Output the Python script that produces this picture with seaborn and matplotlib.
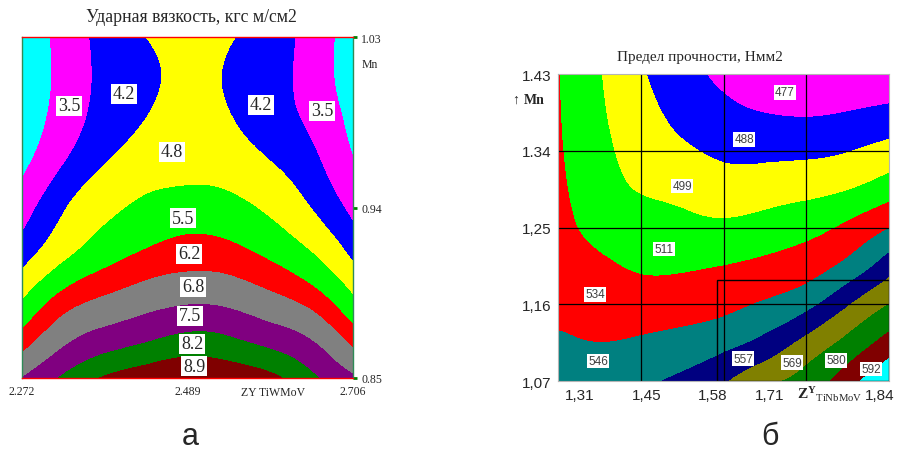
import numpy as np
import matplotlib
matplotlib.use("Agg")
import matplotlib.pyplot as plt
import matplotlib.tri as mtri
import seaborn as sns

# ---------- panel a: impact strength (on a 9x9 grid) ----------
zy_tiwmov = np.linspace(2.272, 2.706, 9)
mn_a = np.linspace(1.03, 0.85, 9)          # rows run top -> bottom
impact = [
    [2.93, 3.75, 4.41, 4.80, 4.94, 4.84, 4.51, 3.93, 3.11],
    [2.92, 3.72, 4.36, 4.70, 4.90, 4.75, 4.44, 3.92, 3.09],
    [3.00, 3.84, 4.45, 4.82, 5.00, 4.85, 4.49, 4.08, 3.28],
    [3.33, 4.20, 4.80, 5.15, 5.25, 5.18, 4.84, 4.37, 3.56],
    [3.87, 4.74, 5.30, 5.65, 5.81, 5.71, 5.35, 4.78, 4.02],
    [4.45, 5.25, 5.85, 6.22, 6.43, 6.35, 6.00, 5.45, 4.59],
    [5.30, 6.27, 6.73, 7.05, 7.22, 7.15, 6.83, 6.37, 5.44],
    [6.34, 7.23, 7.70, 8.00, 8.28, 8.17, 7.82, 7.38, 6.47],
    [7.50, 8.30, 8.97, 9.36, 9.55, 9.40, 9.08, 8.33, 7.60],
]
levels_a = [3.5, 4.2, 4.8, 5.5, 6.2, 6.8, 7.5, 8.2, 8.9]
colors_a = ['#00ffff', '#ff00ff', '#0000ff', '#ffff00', '#00ff00',
            '#ff0000', '#808080', '#800080', '#008000', '#800000']
labels_a = ['3.5', '4.2', '4.2', '3.5', '4.8', '5.5', '6.2', '6.8', '7.5', '8.2', '8.9']

# ---------- panel b: tensile strength ----------
zy_tinbmov = np.linspace(1.31, 1.84, 9)
mn_b = np.linspace(1.43, 1.07, 9)          # rows run top -> bottom
strength = [
    [517.3, 506.1, 495.2, 487.1, 479.1, 473.3, 470.4, 471.0, 472.7],
    [517.6, 507.2, 497.5, 491.1, 485.6, 482.3, 481.2, 482.7, 485.3],
    [518.0, 508.9, 500.3, 495.7, 491.8, 491.1, 491.4, 493.5, 497.7],
    [518.8, 510.7, 504.7, 502.4, 499.3, 500.2, 502.2, 505.0, 511.7],
    [520.4, 513.6, 510.1, 508.4, 507.6, 509.8, 512.9, 519.1, 527.9],
    [522.5, 519.0, 515.6, 515.5, 517.0, 519.5, 523.4, 531.6, 546.1],
    [525.1, 523.8, 522.4, 523.2, 525.3, 529.7, 536.3, 550.2, 563.0],
    [530.2, 528.5, 529.9, 532.4, 536.4, 543.3, 554.6, 566.1, 579.0],
    [534.3, 534.3, 537.7, 542.3, 549.8, 560.4, 567.0, 581.2, 596.1],
]
levels_b = [482.5, 494, 505.5, 517, 528.5, 540, 551.5, 563, 574.5, 586]
colors_b = ['#ff00ff', '#0000ff', '#ffff00', '#00ff00', '#ff0000', '#008080',
            '#000080', '#808000', '#008000', '#800000', '#00ffff']
labels_b = ['477', '488', '499', '511', '534', '546', '557', '569', '580', '592']
xticks_b = ['1,31', '1,45', '1,58', '1,71', '1,84']
yticks_b = ['1.43', '1.34', '1,25', '1,16', '1,07']

# where the value boxes sit (axes fractions)
pos_a = [(0.142, 0.798), (0.308, 0.833), (0.722, 0.801), (0.906, 0.783), (0.453, 0.663),
         (0.486, 0.469), (0.505, 0.364), (0.517, 0.267), (0.508, 0.182), (0.514, 0.100),
         (0.520, 0.035)]
pos_b = [(0.686, 0.941), (0.562, 0.788), (0.375, 0.635), (0.320, 0.430), (0.112, 0.283),
         (0.121, 0.065), (0.559, 0.072), (0.707, 0.059), (0.840, 0.068), (0.946, 0.039)]
xtick_frac_b = [0.066, 0.269, 0.468, 0.640, 0.972]


def smooth_field(x, y, z):
    # two triangles per grid cell, then matplotlib's own cubic refinement
    X, Y = np.meshgrid(x, y)
    nx, ny = len(x), len(y)
    tris = []
    for j in range(ny - 1):
        for i in range(nx - 1):
            a = j * nx + i
            tris.append([a, a + 1, a + nx])
            tris.append([a + 1, a + nx + 1, a + nx])
    tri = mtri.Triangulation(X.ravel(), Y.ravel(), tris)
    return mtri.UniformTriRefiner(tri).refine_field(np.asarray(z, float).ravel(), subdiv=5)


sns.set_style("white")
plt.rcParams['font.family'] = ['Liberation Serif', 'DejaVu Serif']
plt.rcParams['mathtext.fontset'] = 'custom'
plt.rcParams['mathtext.rm'] = 'Liberation Serif'
plt.rcParams['mathtext.bf'] = 'Liberation Serif:bold'
SANS = ['Liberation Sans', 'DejaVu Sans']

W, H = 898, 452
fig = plt.figure(figsize=(W / 100, H / 100), dpi=100)

# ---- panel a ----
ax_a = fig.add_axes([22 / W, 1 - 379 / H, 331 / W, 341 / H])
tf, zf = smooth_field(zy_tiwmov, mn_a, impact)
ax_a.tricontourf(tf, zf, levels=[0] + levels_a + [20], colors=colors_a)
ax_a.set_xlim(2.272, 2.706)
ax_a.set_ylim(0.85, 1.03)
for side in ['top', 'bottom']:
    ax_a.spines[side].set_color('red')
for side in ['left', 'right']:
    ax_a.spines[side].set_color('#2e8b57')
for s in ax_a.spines.values():
    s.set_linewidth(1)
ax_a.set_xticks([2.272, 2.489, 2.706], ['2.272', '2.489', '2.706'])
ax_a.yaxis.tick_right()
ax_a.set_yticks([0.85, 0.94, 1.03], ['0.85', '0.94', '1.03'])
ax_a.tick_params(axis='x', color='red', length=2, width=2, labelsize=8.5, pad=3)
ax_a.tick_params(axis='y', color='#008000', length=3, width=2, labelsize=8.5, pad=3)
ax_a.text(1.027, 0.921, 'Mn', transform=ax_a.transAxes, fontsize=8.5, ha='left', va='center')
ax_a.text(0.758, -0.04, 'ZY TiWMoV', transform=ax_a.transAxes, fontsize=8.5,
          ha='center', va='center')
for (fx, fy), t in zip(pos_a, labels_a):
    ax_a.text(fx, fy, t, transform=ax_a.transAxes, fontsize=13, ha='center', va='center',
              bbox=dict(facecolor='white', edgecolor='none', pad=1.2))
fig.text(191 / W, 1 - 18 / H, 'Ударная вязкость, кгс м/см2', fontsize=12.8,
         ha='center', va='center')

# ---- panel b ----
ax_b = fig.add_axes([558 / W, 1 - 382 / H, 331 / W, 307 / H])
tf, zf = smooth_field(zy_tinbmov, mn_b, strength)
ax_b.tricontourf(tf, zf, levels=[400] + levels_b + [700], colors=colors_b)
ax_b.set_xlim(1.31, 1.84)
ax_b.set_ylim(1.07, 1.43)
for s in ax_b.spines.values():
    s.set_color('#b4b4b4')
    s.set_linewidth(0.8)
for gx in [0.25, 0.5, 0.75]:
    ax_b.axvline(1.31 + gx * 0.53, color='black', lw=0.9)
for gy in [1.16, 1.25, 1.34]:
    ax_b.axhline(gy, color='black', lw=0.9)
ax_b.add_patch(plt.Rectangle((0.48, 0.0), 0.52, 0.329, transform=ax_b.transAxes,
                             fill=False, edgecolor='black', lw=1))
ax_b.set_xticks([1.31 + f * 0.53 for f in xtick_frac_b], xticks_b)
ax_b.set_yticks([1.43, 1.34, 1.25, 1.16, 1.07], yticks_b)
ax_b.tick_params(length=0, labelsize=11, pad=5)
for lab in ax_b.get_xticklabels() + ax_b.get_yticklabels():
    lab.set_family(SANS)
ax_b.text(-0.128, 0.918, '↑', transform=ax_b.transAxes, fontsize=10, ha='center', va='center')
ax_b.text(-0.04, 0.918, 'Mn', transform=ax_b.transAxes, fontsize=10, fontweight='bold',
          ha='right', va='center')
ax_b.text(0.822, -0.04, r'$\mathbf{Z^{Y}}_{\mathrm{TiNbMoV}}$', transform=ax_b.transAxes,
          fontsize=11, ha='center', va='center')
for (fx, fy), t in zip(pos_b, labels_b):
    ax_b.text(fx, fy, t, transform=ax_b.transAxes, fontsize=8.5, color='#404040',
              family=SANS, ha='center', va='center',
              bbox=dict(facecolor='white', edgecolor='none', pad=1.0))
fig.text(700 / W, 1 - 57 / H, 'Предел прочности, Нмм2', fontsize=11, ha='center', va='center')

fig.text(190 / W, 1 - 437 / H, 'а', family=SANS, fontsize=22, ha='center', va='center')
fig.text(770 / W, 1 - 437 / H, 'б', family=SANS, fontsize=22, ha='center', va='center')

fig.savefig('out.png', dpi=100)
